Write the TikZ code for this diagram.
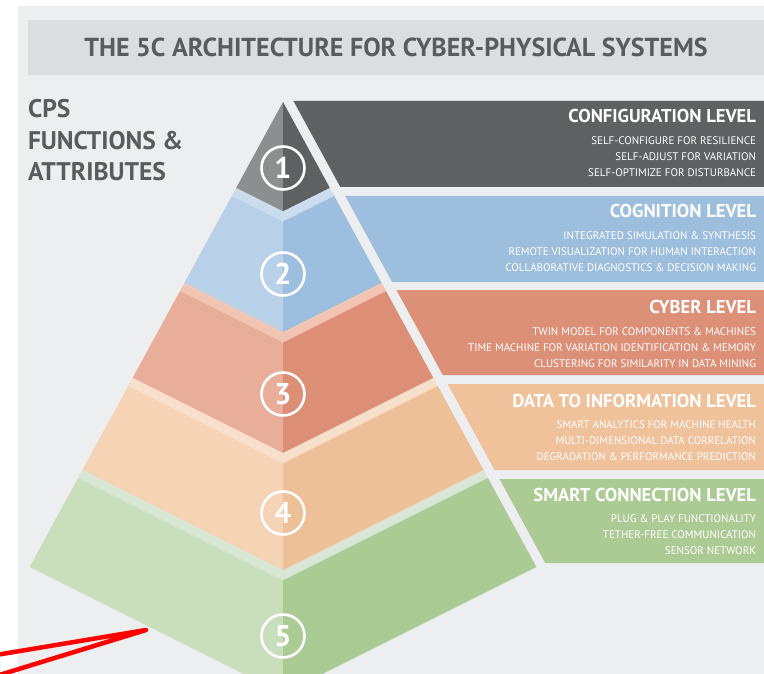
\documentclass[tikz,border=0pt]{standalone}
\usepackage{fontspec}
\setmainfont{PT Sans}
\definecolor{panel}{HTML}{EDEEF0}
\definecolor{titlebar}{HTML}{DCDDDF}
\definecolor{txtgray}{HTML}{5A5B5D}
\definecolor{gL}{HTML}{8D8E90}
\definecolor{gR}{HTML}{5F6062}
\definecolor{gBox}{HTML}{606163}
\definecolor{bBand}{HTML}{CADDEE}
\definecolor{bL}{HTML}{B9D1E8}
\definecolor{bR}{HTML}{9DBFDF}
\definecolor{bBox}{HTML}{9DBFDD}
\definecolor{sBand}{HTML}{F1C5B2}
\definecolor{sL}{HTML}{E9AE99}
\definecolor{sR}{HTML}{DD8F76}
\definecolor{sBox}{HTML}{DD9078}
\definecolor{pBand}{HTML}{F8DFCC}
\definecolor{pL}{HTML}{F5D3B5}
\definecolor{pR}{HTML}{EEC097}
\definecolor{pBox}{HTML}{EFC29B}
\definecolor{vBand}{HTML}{D7E7D3}
\definecolor{vL}{HTML}{C9DEBA}
\definecolor{vR}{HTML}{ABCB95}
\definecolor{vBox}{HTML}{ABCA94}
\definecolor{redline}{HTML}{FF0000}
% one stepped layer of the pyramid: #1 top corner y, #2 bottom corner y, #3 band, #4 left face, #5 right face
\newcommand{\pyrlayer}[5]{%
  \pgfmathsetmacro{\pyrWa}{(#1-102)*0.545}%
  \pgfmathsetmacro{\pyrWb}{(#1+8-102)*0.545}%
  \pgfmathsetmacro{\pyrWc}{(#2-102)*0.545}%
  \fill[#3] ({283-\pyrWa},#1) -- ({283},{#1+0.5*\pyrWa}) -- ({283+\pyrWa},#1) -- ({283+\pyrWb},{#1+8}) -- ({283},{#1+8+0.5*\pyrWb}) -- ({283-\pyrWb},{#1+8}) -- cycle;
  \fill[#4] ({283-\pyrWb},{#1+8}) -- ({283},{#1+8+0.5*\pyrWb}) -- ({283},{#2+0.5*\pyrWc}) -- ({283-\pyrWc},#2) -- cycle;
  \fill[#5] ({283+\pyrWb},{#1+8}) -- ({283},{#1+8+0.5*\pyrWb}) -- ({283},{#2+0.5*\pyrWc}) -- ({283+\pyrWc},#2) -- cycle;
}
% level box with slanted left edge: #1 top y, #2 height, #3 colour
\newcommand{\lvlbox}[3]{%
  \fill[#3] ({294+(#1-102)*0.545},#1) -- (764,#1) -- (764,{#1+#2}) -- ({294+(#1+#2-102)*0.545},{#1+#2}) -- cycle;
}
\begin{document}
\begin{tikzpicture}[x=1pt,y=-1pt,
  every node/.style={inner sep=0pt, outer sep=0pt},
  boxtitle/.style={anchor=base east, text=white, font=\bfseries\fontsize{18.6}{22}\selectfont},
  boxline/.style={anchor=base east, text=white, font=\fontsize{11}{14}\selectfont},
  numcirc/.style={circle, draw=white, line width=2.6pt, minimum size=43pt, text=white, font=\bfseries\fontsize{30}{30}\selectfont},
  lefttxt/.style={anchor=base west, text=txtgray, font=\bfseries\fontsize{25.5}{28}\selectfont},
  redstroke/.style={draw=redline, line width=4.5pt, line cap=round, line join=round}
]
\useasboundingbox (0,0) rectangle (764,674);
\clip (0,0) rectangle (764,674);
\fill[white] (0,0) rectangle (764,674);
\fill[panel] (18,6) rectangle (764,674);
\fill[titlebar] (28,20) rectangle (764,75);
\node[anchor=base, text=txtgray, font=\bfseries\fontsize{26}{30}\selectfont] (title) at (396,56.5) {THE 5C ARCHITECTURE FOR CYBER-PHYSICAL SYSTEMS};

% left heading
\node[lefttxt] (cps1) at (28,118) {CPS};
\node[lefttxt] (cps2) at (28,150) {FUNCTIONS \&};
\node[lefttxt] (cps3) at (28,181) {ATTRIBUTES};

% level boxes
\lvlbox{101}{86}{gBox}
\lvlbox{196}{86}{bBox}
\lvlbox{290}{85}{sBox}
\lvlbox{384}{86}{pBox}
\lvlbox{479}{84}{vBox}

% pyramid
\fill[gL] (283,102) -- (236.1,188) -- (283,211.4) -- cycle;
\fill[gR] (283,102) -- (329.9,188) -- (283,211.4) -- cycle;
\pyrlayer{188}{283}{bBand}{bL}{bR}
\pyrlayer{283}{378}{sBand}{sL}{sR}
\pyrlayer{378}{470}{pBand}{pL}{pR}
\pyrlayer{470}{567}{vBand}{vL}{vR}

% numbers
\node[numcirc] (n1) at (283,168) {1};
\node[numcirc] (n2) at (283,274) {2};
\node[numcirc] (n3) at (283,394) {3};
\node[numcirc] (n4) at (283,513) {4};
\node[numcirc] (n5) at (283,636) {5};

% box texts
\node[boxtitle] (t1) at (756,123) {CONFIGURATION LEVEL};
\node[boxline] (t1a) at (756,145) {SELF-CONFIGURE FOR RESILIENCE};
\node[boxline] (t1b) at (756,161) {SELF-ADJUST FOR VARIATION};
\node[boxline] (t1c) at (756,177) {SELF-OPTIMIZE FOR DISTURBANCE};

\node[boxtitle] (t2) at (756,218) {COGNITION LEVEL};
\node[boxline] (t2a) at (756,240) {INTEGRATED SIMULATION \& SYNTHESIS};
\node[boxline] (t2b) at (756,256) {REMOTE VISUALIZATION FOR HUMAN INTERACTION};
\node[boxline] (t2c) at (756,272) {COLLABORATIVE DIAGNOSTICS \& DECISION MAKING};

\node[boxtitle] (t3) at (756,313) {CYBER LEVEL};
\node[boxline] (t3a) at (756,335) {TWIN MODEL FOR COMPONENTS \& MACHINES};
\node[boxline] (t3b) at (756,351) {TIME MACHINE FOR VARIATION IDENTIFICATION \& MEMORY};
\node[boxline] (t3c) at (756,367) {CLUSTERING FOR SIMILARITY IN DATA MINING};

\node[boxtitle] (t4) at (756,407) {DATA TO INFORMATION LEVEL};
\node[boxline] (t4a) at (756,428) {SMART ANALYTICS FOR MACHINE HEALTH};
\node[boxline] (t4b) at (756,444) {MULTI-DIMENSIONAL DATA CORRELATION};
\node[boxline] (t4c) at (756,460) {DEGRADATION \& PERFORMANCE PREDICTION};

\node[boxtitle] (t5) at (756,501) {SMART CONNECTION LEVEL};
\node[boxline] (t5a) at (756,522) {PLUG \& PLAY FUNCTIONALITY};
\node[boxline] (t5b) at (756,538) {TETHER-FREE COMMUNICATION};
\node[boxline] (t5c) at (756,554) {SENSOR NETWORK};

% red annotation strokes
\coordinate (rtip) at (146,630);
\coordinate (rA) at (-4,655);
\coordinate (rB) at (-4,676);
\draw[redstroke] (rA) -- (rtip) -- (rB);
\end{tikzpicture}
\end{document}
